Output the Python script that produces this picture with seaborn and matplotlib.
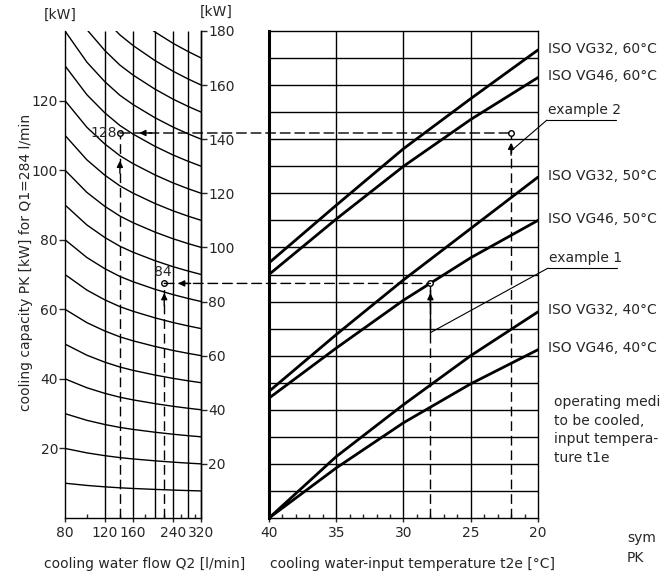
import matplotlib
matplotlib.use('Agg')
import matplotlib.pyplot as plt
import pandas as pd
import seaborn as sns
from matplotlib.patches import ConnectionPatch
from matplotlib.ticker import NullFormatter

# ---- data ----
# left panel: capacity curves vs cooling water flow (log x)
q2_points = [80, 100, 120, 140, 160, 200, 240, 280, 320]
curve_shape = [1.0, 0.936, 0.896, 0.868, 0.849, 0.822, 0.803, 0.789, 0.778]
curve_starts = [10, 20, 30, 40, 50, 60, 70, 80, 90, 100, 110, 120, 130, 140, 150, 160, 170]
q2_grid = [120, 160, 200, 240, 280]
q2_labels = [80, 120, 160, 240, 320]
q2_minor = [100, 140, 180, 220, 260, 300]
left_ticks = [20, 40, 60, 80, 100, 120]
right_ticks = [20, 40, 60, 80, 100, 120, 140, 160, 180]
left_max = 140
right_max = 180

# right panel: capacity vs cooling water input temperature
t2e_points = [40, 35, 30, 25, 20]
oil_lines = {
    'ISO VG32, 60°C': [94.3, 115.6, 136.5, 155.0, 173.0],
    'ISO VG46, 60°C': [90.0, 110.5, 130.0, 147.3, 162.8],
    'ISO VG32, 50°C': [46.8, 67.8, 88.0, 107.0, 126.0],
    'ISO VG46, 50°C': [44.3, 62.8, 80.5, 96.2, 110.0],
    'ISO VG32, 40°C': [0.0, 22.7, 41.9, 60.0, 76.2],
    'ISO VG46, 40°C': [0.0, 18.5, 35.2, 49.6, 62.2],
}
t2e_ticks = [40, 35, 30, 25, 20]
t2e_minor = [39, 38, 37, 36, 34, 33, 32, 31, 29, 28, 27, 26, 24, 23, 22, 21]
pk_grid = [10, 20, 30, 40, 50, 60, 70, 80, 90, 100, 110, 120, 130, 140, 150, 160, 170]

# worked examples
ex_names = ['example 1', 'example 2']
ex_q2 = [220, 140]
ex_t2e = [28, 22]
ex_pk = [86.7, 142.3]
ex_curve_label = ['84', '128']

sns.set_theme(style='white')
plt.rcParams['font.family'] = ['DejaVu Sans']
plt.rcParams['font.size'] = 10
plt.rcParams['axes.edgecolor'] = 'black'
plt.rcParams['axes.linewidth'] = 1.0

W, H = 660, 573
fig = plt.figure(figsize=(6.6, 5.73), dpi=100)
axL = fig.add_axes([65 / W, 1 - 518 / H, 136 / W, 487 / H])
axR = fig.add_axes([269 / W, 1 - 518 / H, 269 / W, 487 / H])

# ---- left panel ----
rows = []
for s in curve_starts:
    for q, f in zip(q2_points, curve_shape):
        rows.append({'q2': q, 'pk': s * f, 'curve': s})
df_left = pd.DataFrame(rows)
sns.lineplot(data=df_left, x='q2', y='pk', units='curve', estimator=None,
             color='black', lw=1.0, ax=axL, legend=False)
axL.set_xscale('log')
axL.set_xlim(80, 320)
axL.set_ylim(0, left_max)
axL.vlines(q2_grid, 0, left_max, color='black', lw=1.0)
axL.spines['top'].set_visible(False)
axL.set_xticks(q2_labels)
axL.set_xticklabels([str(v) for v in q2_labels])
axL.set_xticks(q2_minor, minor=True)
axL.xaxis.set_minor_formatter(NullFormatter())
axL.tick_params(axis='x', which='major', direction='out', length=3, width=1, pad=3,
                labelsize=10, bottom=True)
axL.tick_params(axis='x', which='minor', direction='in', length=3, width=1, bottom=True)
axL.set_yticks(left_ticks)
axL.tick_params(axis='y', which='major', direction='out', length=4, width=1, pad=1,
                labelsize=10, left=True)
axL.set_xlabel('')
axL.set_ylabel('')

axT = axL.twinx()
axT.set_ylim(0, right_max)
axT.set_yticks(right_ticks)
axT.tick_params(axis='y', direction='out', length=4, width=1, pad=1, labelsize=10, right=True)
for sp in ['top', 'left', 'bottom']:
    axT.spines[sp].set_visible(False)
axT.grid(False)

# ---- right panel ----
rows = []
for name, vals in oil_lines.items():
    for t, v in zip(t2e_points, vals):
        rows.append({'t2e': t, 'pk': v, 'oil': name})
df_right = pd.DataFrame(rows)
sns.lineplot(data=df_right, x='t2e', y='pk', units='oil', estimator=None, sort=False,
             color='black', lw=2.0, ax=axR, legend=False)
axR.set_xlim(40, 20)
axR.set_ylim(0, right_max)
axR.hlines(pk_grid, 40, 20, color='black', lw=1.0, zorder=1)
axR.vlines([35, 30, 25], 0, right_max, color='black', lw=1.0, zorder=1)
axR.spines['left'].set_linewidth(2.2)
axR.set_yticks([])
axR.set_xticks(t2e_ticks)
axR.set_xticklabels([str(v) for v in t2e_ticks])
axR.set_xticks(t2e_minor, minor=True)
axR.tick_params(axis='x', which='major', direction='out', length=3, width=1, pad=3,
                labelsize=10, bottom=True)
axR.tick_params(axis='x', which='minor', direction='in', length=3, width=1, bottom=True)
axR.set_xlabel('')
axR.set_ylabel('')

for name, vals in oil_lines.items():
    axR.annotate(name, xy=(20, vals[-1]), xytext=(7, 1), textcoords='offset points',
                 va='center', ha='left', fontsize=10, annotation_clip=False)

# ---- examples ----
dash = (0, (7, 3.5))
scale = left_max / right_max
tip_gap_v = [7, 20]      # gap (pt) between left-panel point and up arrow tip
tip_gap_h = [10, 14]     # gap (pt) between left-panel point and left arrow tip
for i in range(2):
    yL = ex_pk[i] * scale
    # left panel vertical dashed + arrow
    axL.plot([ex_q2[i], ex_q2[i]], [0, yL], color='black', lw=1.0, ls=dash)
    axL.annotate('', xy=(ex_q2[i], yL), xytext=(0, -tip_gap_v[i] - 9),
                 textcoords='offset points',
                 arrowprops=dict(arrowstyle='-|>', color='black', lw=1.0,
                                 mutation_scale=9, shrinkA=0, shrinkB=tip_gap_v[i]))
    # horizontal dashed between the panels
    con = ConnectionPatch(xyA=(ex_q2[i], yL), coordsA=axL.transData,
                          xyB=(ex_t2e[i], ex_pk[i]), coordsB=axR.transData,
                          color='black', lw=1.0, ls=dash)
    fig.add_artist(con)
    axL.annotate('', xy=(ex_q2[i], yL), xytext=(tip_gap_h[i] + 9, 0),
                 textcoords='offset points',
                 arrowprops=dict(arrowstyle='-|>', color='black', lw=1.0,
                                 mutation_scale=9, shrinkA=0, shrinkB=tip_gap_h[i]))
    axL.plot([ex_q2[i]], [yL], marker='o', ms=4, mfc='white', mec='black', mew=1, zorder=5)
    # right panel vertical dashed + arrow
    axR.plot([ex_t2e[i], ex_t2e[i]], [0, ex_pk[i]], color='black', lw=1.0, ls=dash)
    axR.annotate('', xy=(ex_t2e[i], ex_pk[i]), xytext=(0, -16),
                 textcoords='offset points',
                 arrowprops=dict(arrowstyle='-|>', color='black', lw=1.0,
                                 mutation_scale=9, shrinkA=0, shrinkB=7))
    axR.plot([ex_t2e[i]], [ex_pk[i]], marker='o', ms=4, mfc='white', mec='black', mew=1, zorder=5)

axL.annotate(ex_curve_label[0], xy=(ex_q2[0], ex_pk[0] * scale), xytext=(-1, 3),
             textcoords='offset points', ha='center', va='bottom', fontsize=10)
axL.annotate(ex_curve_label[1], xy=(ex_q2[1], ex_pk[1] * scale), xytext=(-2, 0),
             textcoords='offset points', ha='right', va='center', fontsize=10)

# example labels with leader lines
leader_anchor = [(28, 68.5), (22, 135.7)]
label_pos = [(1.037, 0.513), (1.033, 0.817)]
for name, anchor, pos in zip(ex_names, leader_anchor, label_pos):
    axR.annotate('', xy=anchor, xytext=pos, textcoords='axes fraction',
                 arrowprops=dict(arrowstyle='-', color='black', lw=0.8, shrinkA=0, shrinkB=0),
                 annotation_clip=False)
    axR.plot([pos[0], pos[0] + 0.257], [pos[1], pos[1]], transform=axR.transAxes,
             color='black', lw=0.8, clip_on=False)
    axR.text(pos[0] + 0.003, pos[1] + 0.006, name, transform=axR.transAxes,
             ha='left', va='bottom', fontsize=10)
# example 1 leader continues as a solid line up the 28 °C dashed line
axR.plot([leader_anchor[0][0]] * 2, [leader_anchor[0][1], ex_pk[0]], color='black', lw=1.0)

# ---- labels ----
fig.text(26 / W, 1 - 262 / H, 'cooling capacity PK [kW] for Q1=284 l/min',
         rotation=90, ha='center', va='center', fontsize=10)
fig.text(145 / W, 1 - 564 / H, 'cooling water flow Q2 [l/min]', ha='center', va='center', fontsize=10)
fig.text(412 / W, 1 - 564 / H, 'cooling water-input temperature t2e [°C]',
         ha='center', va='center', fontsize=10)
fig.text(60 / W, 1 - 15 / H, '[kW]', ha='center', va='center', fontsize=10)
fig.text(216 / W, 1 - 12 / H, '[kW]', ha='center', va='center', fontsize=10)
fig.text(554 / W, 1 - 430 / H, 'operating medium\nto be cooled,\ninput tempera-\nture t1e',
         ha='left', va='center', fontsize=10, linespacing=1.45)
fig.text(627 / W, 1 - 538 / H, 'sym', ha='left', va='center', fontsize=10)
fig.text(627 / W, 1 - 558 / H, 'PK', ha='left', va='center', fontsize=10)

fig.savefig('out.png', dpi=100)
